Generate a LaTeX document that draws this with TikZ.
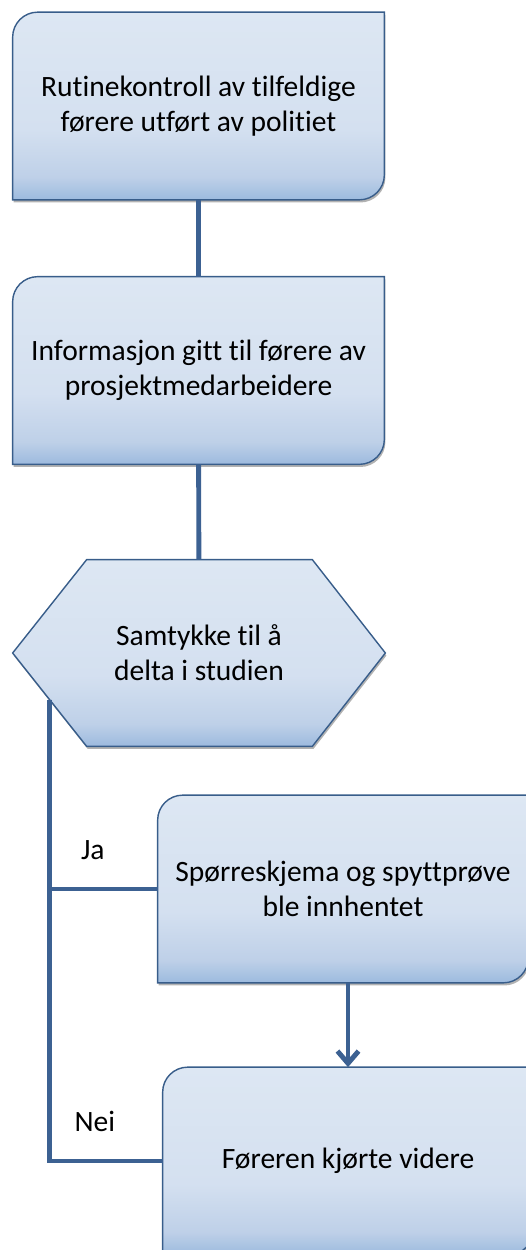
\documentclass[tikz,border=0pt]{standalone}
\usepackage{fontspec}
\setmainfont{Carlito}[Ligatures=NoCommon]
\usepackage{tikz}
\usetikzlibrary{arrows.meta,calc,shadows}
\pgfdeclarelayer{bg}
\pgfsetlayers{bg,main}
\definecolor{boxtop}{RGB}{221,231,243}
\definecolor{boxupper}{RGB}{212,224,240}
\definecolor{boxmid}{RGB}{190,208,232}
\definecolor{boxbot}{RGB}{156,186,222}
\definecolor{boxedge}{RGB}{56,93,138}
\definecolor{linkblue}{RGB}{60,97,146}
\pgfdeclareverticalshading{boxshade}{100bp}{color(0bp)=(boxbot); color(25bp)=(boxbot);
  color(31bp)=(boxmid); color(44bp)=(boxupper); color(75bp)=(boxtop); color(100bp)=(boxtop)}

\begin{document}
\begin{tikzpicture}[
  font=\fontsize{16.8}{20}\selectfont,
  txt/.style={align=center, minimum width=7.42cm, minimum height=3.74cm, inner sep=0pt},
  boxfill/.style={draw=boxedge, line width=0.8pt, shading=boxshade,
    drop shadow={shadow xshift=0.6pt, shadow yshift=-1.5pt, opacity=0.3, fill=black}},
  conn/.style={draw=linkblue, line width=2.8pt},
  lbl/.style={inner sep=0pt},
]
\useasboundingbox (0,0) rectangle (10.52,-25);
% steps
\node[txt] (ctrl) at (3.97,-2.12) {Rutinekontroll av tilfeldige\\førere utført av politiet};
\node[txt] (info) at (3.97,-7.41) {Informasjon gitt til førere av\\prosjektmedarbeidere};
\node[txt, minimum width=7.44cm, minimum height=3.72cm] (ques) at (3.98,-13.06) {Samtykke til å\\delta i studien};
\node[txt, minimum width=7.4cm] (coll) at (6.86,-17.78) {Spørreskjema og spyttprøve\\ble innhentet};
\node[txt, minimum width=7.4cm] (stop) at (6.96,-23.22) {Føreren kjørte videre};
% outlines
\begin{pgfonlayer}{bg}
\foreach \n in {ctrl,info,coll,stop}
  \path[boxfill] (\n.south west) -- ([yshift=-0.5cm]\n.north west)
    arc[start angle=180, end angle=90, radius=0.5cm] -- (\n.north east)
    -- ([yshift=0.5cm]\n.south east) arc[start angle=0, end angle=-90, radius=0.5cm] -- cycle;
\path[boxfill] (ques.west) -- ([xshift=1.48cm]ques.north west) -- ([xshift=-1.46cm]ques.north east)
  -- (ques.east) -- ([xshift=-1.46cm]ques.south east) -- ([xshift=1.48cm]ques.south west) -- cycle;
\end{pgfonlayer}
% links
\coordinate (split) at ($(ques.west)!0.5!([xshift=1.48cm]ques.south west)$);
\draw[conn] (ctrl) -- (info);
\draw[conn] (info) -- (ques);
\draw[conn] (split) |- node[lbl, pos=0.7, above=0.53cm] {Ja} (coll.west);
\draw[conn] (split) |- node[lbl, pos=0.7, above=0.53cm] {Nei} (stop.west);
\draw[conn, -{Straight Barb[length=7pt, width=12pt]}] (stop.north |- coll.south) -- (stop.north);
\end{tikzpicture}
\end{document}
